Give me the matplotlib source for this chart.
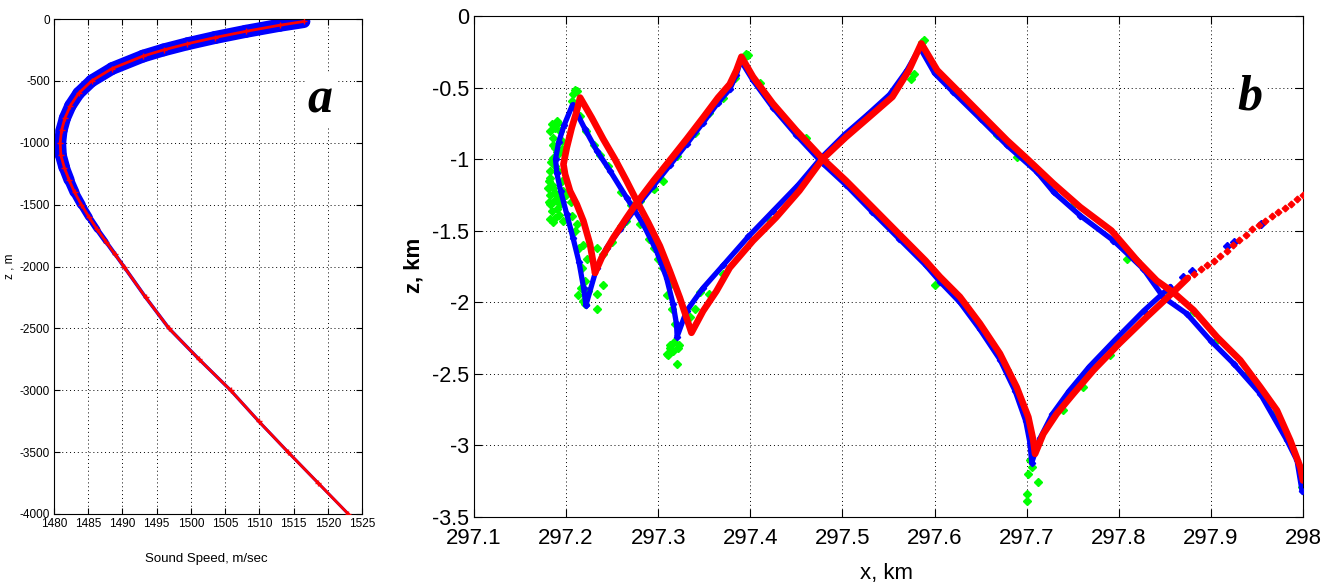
import numpy as np
import matplotlib
matplotlib.use("Agg")
import matplotlib.pyplot as plt
from matplotlib.collections import LineCollection

plt.rcParams["axes.unicode_minus"] = False

# ---------------- Panel a: sound speed profile ----------------
depth_m = [-20, -50, -100, -150, -200, -250, -300, -400, -500, -600, -700, -800,
           -900, -1000, -1100, -1200, -1300, -1400, -1500, -1600, -1700, -1800,
           -1900, -2000, -2250, -2500, -2750, -3000, -3250, -3500, -3750, -4000]
speed_ms = [1516.5, 1513.0, 1508.0, 1503.5, 1499.5, 1496.0, 1493.0, 1488.5, 1485.5,
            1483.6, 1482.4, 1481.6, 1481.1, 1480.9, 1481.0, 1481.5, 1482.2, 1483.0,
            1484.0, 1485.1, 1486.3, 1487.6, 1488.9, 1490.2, 1493.4, 1496.8, 1501.2,
            1505.8, 1509.9, 1514.2, 1518.6, 1523.0]
a_xticks = [1480, 1485, 1490, 1495, 1500, 1505, 1510, 1515, 1520, 1525]
a_yticks = [0, -500, -1000, -1500, -2000, -2500, -3000, -3500, -4000]

# ---------------- Panel b: ray / wavefront points (x km, z km) ----------------
red_path_1 = [(297.2314, -1.794), (297.226, -1.596), (297.2188, -1.432), (297.2116, -1.316),
              (297.2043, -1.223), (297.1989, -1.106), (297.1971, -1.036), (297.2007, -0.920),
              (297.2061, -0.780), (297.2116, -0.663), (297.2152, -0.570),
              (297.2278, -0.710), (297.2404, -0.861), (297.2531, -1.001), (297.2657, -1.153),
              (297.2773, -1.300), (297.2892, -1.444), (297.3018, -1.607), (297.3126, -1.782),
              (297.3235, -1.969), (297.3307, -2.108), (297.3361, -2.213),
              (297.3487, -2.061), (297.3632, -1.922), (297.3776, -1.759), (297.4029, -1.570),
              (297.428, -1.407), (297.4533, -1.220), (297.4786, -0.998), (297.5038, -0.846),
              (297.529, -0.706), (297.5542, -0.565), (297.5722, -0.379), (297.5856, -0.192),
              (297.6029, -0.379), (297.6209, -0.495), (297.6498, -0.682), (297.6787, -0.869),
              (297.7004, -0.997), (297.7292, -1.172), (297.7581, -1.335), (297.792, -1.499),
              (297.8200, -1.709), (297.8412, -1.849), (297.8600, -1.935), (297.8812, -2.055),
              (297.9065, -2.242), (297.9319, -2.405), (297.9536, -2.592), (297.9717, -2.755),
              (297.9862, -2.965), (297.9971, -3.152), (298.0, -3.245)]
red_path_2 = [(297.2314, -1.794), (297.2386, -1.689), (297.2513, -1.549), (297.2657, -1.409),
              (297.2773, -1.300), (297.2946, -1.153), (297.3126, -1.008), (297.3307, -0.861),
              (297.3487, -0.710), (297.3650, -0.570), (297.3776, -0.477), (297.3849, -0.379),
              (297.3903, -0.285),
              (297.4029, -0.425), (297.4245, -0.612), (297.4497, -0.799), (297.4786, -0.998),
              (297.5038, -1.150), (297.5326, -1.336), (297.5614, -1.523), (297.5903, -1.710),
              (297.6058, -1.822), (297.6275, -1.962), (297.6493, -2.149), (297.671, -2.359),
              (297.6891, -2.592), (297.7018, -2.802), (297.7072, -2.965), (297.7091, -3.059),
              (297.7181, -2.919), (297.7326, -2.779), (297.7507, -2.639), (297.7725, -2.475),
              (297.8004, -2.289), (297.8304, -2.102), (297.8594, -1.927), (297.8750, -1.830)]
red_dots = [(297.882, -1.80), (297.889, -1.77), (297.896, -1.74), (297.903, -1.71),
            (297.910, -1.675), (297.917, -1.64), (297.924, -1.60), (297.931, -1.565),
            (297.938, -1.53), (297.945, -1.49), (297.952, -1.46), (297.959, -1.43),
            (297.966, -1.40), (297.973, -1.37), (297.980, -1.34), (297.987, -1.31),
            (297.994, -1.28), (298.0, -1.25)]

blue_path_1 = [(297.2215, -2.02), (297.219, -1.90), (297.214, -1.72), (297.2075, -1.55),
               (297.2007, -1.385), (297.194, -1.22), (297.190, -1.10), (297.1885, -1.00),
               (297.192, -0.88), (297.198, -0.76), (297.207, -0.62),
               (297.2205, -0.79), (297.2332, -0.94), (297.2477, -1.082), (297.2657, -1.269),
               (297.2838, -1.456), (297.2982, -1.642), (297.309, -1.829), (297.3162, -2.015),
               (297.3199, -2.155), (297.3205, -2.24),
               (297.3307, -2.061), (297.3487, -1.900), (297.3704, -1.742), (297.398, -1.54),
               (297.425, -1.36), (297.452, -1.18), (297.477, -0.99), (297.502, -0.83),
               (297.527, -0.69), (297.551, -0.55), (297.570, -0.38), (297.584, -0.22),
               (297.600, -0.40), (297.620, -0.53), (297.650, -0.72), (297.6787, -0.904),
               (297.7112, -1.09), (297.7292, -1.23), (297.7581, -1.394), (297.7942, -1.569),
               (297.8267, -1.767), (297.8484, -1.965), (297.8739, -2.08), (297.900, -2.27),
               (297.9246, -2.428), (297.9536, -2.639), (297.9826, -2.965), (297.9935, -3.105),
               (297.9989, -3.315)]
blue_path_2 = [(297.2215, -2.02), (297.2332, -1.759), (297.2440, -1.619), (297.2585, -1.491),
               (297.2773, -1.327), (297.2946, -1.188), (297.3126, -1.043), (297.3307, -0.896),
               (297.3487, -0.745), (297.365, -0.605), (297.3776, -0.512), (297.3849, -0.41),
               (297.3895, -0.31),
               (297.4029, -0.45), (297.4245, -0.64), (297.4497, -0.83), (297.4786, -1.03),
               (297.5038, -1.18), (297.5326, -1.37), (297.5614, -1.555), (297.5903, -1.74),
               (297.6058, -1.855), (297.6275, -2.00), (297.6493, -2.19), (297.671, -2.40),
               (297.6875, -2.62), (297.699, -2.83), (297.7035, -2.98), (297.7055, -3.12),
               (297.7145, -2.95), (297.728, -2.78), (297.746, -2.62), (297.768, -2.45),
               (297.797, -2.255), (297.827, -2.06), (297.856, -1.89)]
blue_dots = [(297.870, -1.82), (297.880, -1.78), (297.917, -1.61), (297.925, -1.58),
             (297.954, -1.45)]

green_pts = [(297.1845, -0.756), (297.1863, -0.850), (297.1935, -0.803), (297.1881, -0.920),
             (297.1827, -1.129), (297.1863, -1.199), (297.1899, -1.269), (297.1845, -1.362),
             (297.1881, -1.409), (297.1935, -1.316), (297.1971, -1.223), (297.1917, -1.083),
             (297.1863, -0.990), (297.1953, -0.873), (297.1809, -1.153), (297.1899, -0.733),
             (297.1971, -1.432), (297.1827, -1.316), (297.1953, -1.153), (297.1917, -0.966),
             (297.183, -0.80), (297.188, -0.78), (297.191, -0.75), (297.186, -0.90),
             (297.190, -0.95), (297.184, -1.02), (297.188, -1.05), (297.182, -1.08),
             (297.185, -1.18), (297.188, -1.24), (297.182, -1.25), (297.186, -1.30),
             (297.190, -1.35), (297.183, -1.42), (297.186, -1.44), (297.192, -1.39),
             (297.194, -1.28), (297.180, -1.20), (297.181, -1.30), (297.195, -0.93),
             (297.2079, -0.547), (297.2116, -0.523), (297.2061, -0.593), (297.2097, -0.52),
             (297.200, -1.25), (297.206, -1.40), (297.210, -1.50), (297.214, -1.62),
             (297.217, -1.76), (297.221, -1.85), (297.216, -1.90), (297.213, -1.95),
             (297.205, -1.30), (297.212, -1.45), (297.2188, -1.60), (297.2224, -1.70),
             (297.218, -1.99), (297.233, -1.94), (297.240, -1.88), (297.234, -2.05),
             (297.2206, -2.01), (297.2242, -1.922), (297.2332, -1.619), (297.260, -1.47),
             (297.215, -0.70), (297.222, -0.80), (297.230, -0.90), (297.245, -1.05),
             (297.270, -1.32), (297.280, -1.45), (297.295, -1.62), (297.300, -1.70),
             (297.310, -1.95), (297.315, -2.05), (297.318, -2.15),
             (297.240, -1.66), (297.250, -1.58), (297.265, -1.43), (297.280, -1.29),
             (297.300, -1.13), (297.320, -0.98), (297.340, -0.82), (297.355, -0.68),
             (297.370, -0.57), (297.383, -0.43),
             (297.2946, -1.199), (297.305, -1.15), (297.295, -1.21), (297.237, -0.97),
             (297.260, -1.23), (297.290, -1.56), (297.305, -1.76), (297.3126, -1.876),
             (297.3125, -2.317), (297.309, -2.36), (297.320, -2.43), (297.317, -2.28),
             (297.323, -2.30), (297.3126, -2.295), (297.3162, -2.341), (297.3108, -2.365),
             (297.3217, -2.318), (297.335, -2.10), (297.345, -1.93), (297.340, -2.05),
             (297.355, -1.94), (297.370, -1.80),
             (297.3957, -0.262), (297.3939, -0.285), (297.397, -0.27),
             (297.420, -1.42), (297.465, -1.10), (297.410, -0.47), (297.460, -0.85),
             (297.5866, -0.181), (297.574, -0.437), (297.5776, -0.402), (297.588, -0.17),
             (297.6679, -0.834), (297.6895, -0.985), (297.7509, -1.312), (297.8087, -1.697),
             (297.8195, -1.709), (297.852, -1.919), (297.8812, -2.067), (297.9065, -2.265),
             (297.9391, -2.499), (297.9681, -2.779), (297.9989, -3.292), (298.0, -3.245),
             (297.7398, -2.755), (297.7616, -2.592), (297.790, -2.37), (297.6783, -2.475),
             (297.600, -1.88), (297.7018, -3.199), (297.7054, -3.152), (297.7127, -3.257),
             (297.7007, -3.339), (297.7007, -3.385), (297.7036, -3.105), (297.712, -2.98)]
b_xticks = [297.1, 297.2, 297.3, 297.4, 297.5, 297.6, 297.7, 297.8, 297.9, 298.0]
b_xticklabels = ["297.1", "297.2", "297.3", "297.4", "297.5", "297.6", "297.7",
                 "297.8", "297.9", "298"]
b_yticks = [0, -0.5, -1, -1.5, -2, -2.5, -3, -3.5]
b_yticklabels = ["0", "-0.5", "-1", "-1.5", "-2", "-2.5", "-3", "-3.5"]

SANS = ["Liberation Sans", "DejaVu Sans"]
RED, BLUE, GREEN = "#ff0000", "#0000ff", "#00ff00"
W, H = 1332, 586

fig = plt.figure(figsize=(W / 100, H / 100), dpi=100)
axa = fig.add_axes([54 / W, 1 - 514 / H, 308 / W, 495 / H])
axb = fig.add_axes([474 / W, 1 - 517 / H, 829 / W, 501 / H])

grid_kw = dict(linestyle=(0, (1, 3)), color="k", linewidth=0.7)

# ---- panel a ----
sp = np.asarray(speed_ms, float)
dp = np.asarray(depth_m, float)
pts = np.column_stack([sp, dp])
segs = np.stack([pts[:-1], pts[1:]], axis=1)
mid_depth = 0.5 * (dp[:-1] + dp[1:])
band_w = np.interp(-mid_depth, [0, 1200, 1900, 4000], [9.5, 8.5, 2.6, 2.0])
lc = LineCollection(segs, colors=BLUE, linewidths=band_w, capstyle="round",
                    joinstyle="round", zorder=2)
axa.add_collection(lc)
axa.plot(sp, dp, color=RED, lw=2.0, marker="+", ms=5, mew=1.0, zorder=3)
axa.set_xlim(1480, 1525)
axa.set_ylim(-4000, 0)
axa.set_xticks(a_xticks)
axa.set_yticks(a_yticks)
axa.set_xticklabels([str(v) for v in a_xticks], family=SANS, fontsize=8.5)
axa.set_yticklabels([str(v) for v in a_yticks], family=SANS, fontsize=8.5)
axa.tick_params(direction="in", top=True, right=True, length=4, width=0.8)
axa.tick_params(axis="x", pad=3)
axa.tick_params(axis="y", pad=3)
axa.grid(True, **grid_kw)
axa.set_axisbelow(True)
for s in axa.spines.values():
    s.set_linewidth(0.8)
axa.text(0.864, 0.836, "a", transform=axa.transAxes, ha="center", va="center",
         fontsize=36, family="Liberation Serif", weight="bold", style="italic",
         bbox=dict(facecolor="white", edgecolor="none", pad=2), zorder=5)
fig.text(206 / W, 1 - 559 / H, "Sound Speed, m/sec", ha="center", va="center",
         family=SANS, fontsize=9.5)
fig.text(10 / W, 1 - 266 / H, "z , m", ha="center", va="center", rotation=90,
         family=SANS, fontsize=8.5)

# ---- panel b ----
def xy(lst):
    arr = np.asarray(lst, float)
    return arr[:, 0], arr[:, 1]

gx, gz = xy(green_pts)
axb.plot(gx, gz, linestyle="none", marker="D", ms=4.2, color=GREEN, mec=GREEN, zorder=2)
for path in (blue_path_1, blue_path_2):
    x, z = xy(path)
    axb.plot(x, z, color=BLUE, lw=3.8, marker="D", ms=3.2, mec=BLUE,
             solid_joinstyle="round", solid_capstyle="round", zorder=3)
bx, bz = xy(blue_dots)
axb.plot(bx, bz, linestyle="none", marker="D", ms=3.8, color=BLUE, zorder=3)
for path in (red_path_1, red_path_2):
    x, z = xy(path)
    axb.plot(x, z, color=RED, lw=4.8, solid_joinstyle="round",
             solid_capstyle="round", zorder=4)
rx, rz = xy(red_dots)
axb.plot(rx, rz, linestyle="none", marker="D", ms=3.4, color=RED, mec=RED, zorder=4)

axb.set_xlim(297.1, 298.0)
axb.set_ylim(-3.5, 0)
axb.set_xticks(b_xticks)
axb.set_xticklabels(b_xticklabels, family=SANS, fontsize=16)
axb.set_yticks(b_yticks)
axb.set_yticklabels(b_yticklabels, family=SANS, fontsize=15.5)
axb.tick_params(direction="in", top=True, right=True, length=6, width=0.8)
axb.tick_params(axis="x", pad=8)
axb.tick_params(axis="y", pad=3.5)
axb.grid(True, **grid_kw)
axb.set_axisbelow(True)
for s in axb.spines.values():
    s.set_linewidth(0.8)
axb.text(0.936, 0.838, "b", transform=axb.transAxes, ha="center", va="center",
         fontsize=36, family="Liberation Serif", weight="bold", style="italic",
         bbox=dict(facecolor="white", edgecolor="none", pad=2), zorder=5)
fig.text(887 / W, 1 - 574 / H, "x, km", ha="center", va="center",
         family=SANS, fontsize=16)
fig.text(414 / W, 1 - 265 / H, "z, km", ha="center", va="center", rotation=90,
         family=SANS, weight="bold", fontsize=16)

fig.savefig("out.png", dpi=100)
